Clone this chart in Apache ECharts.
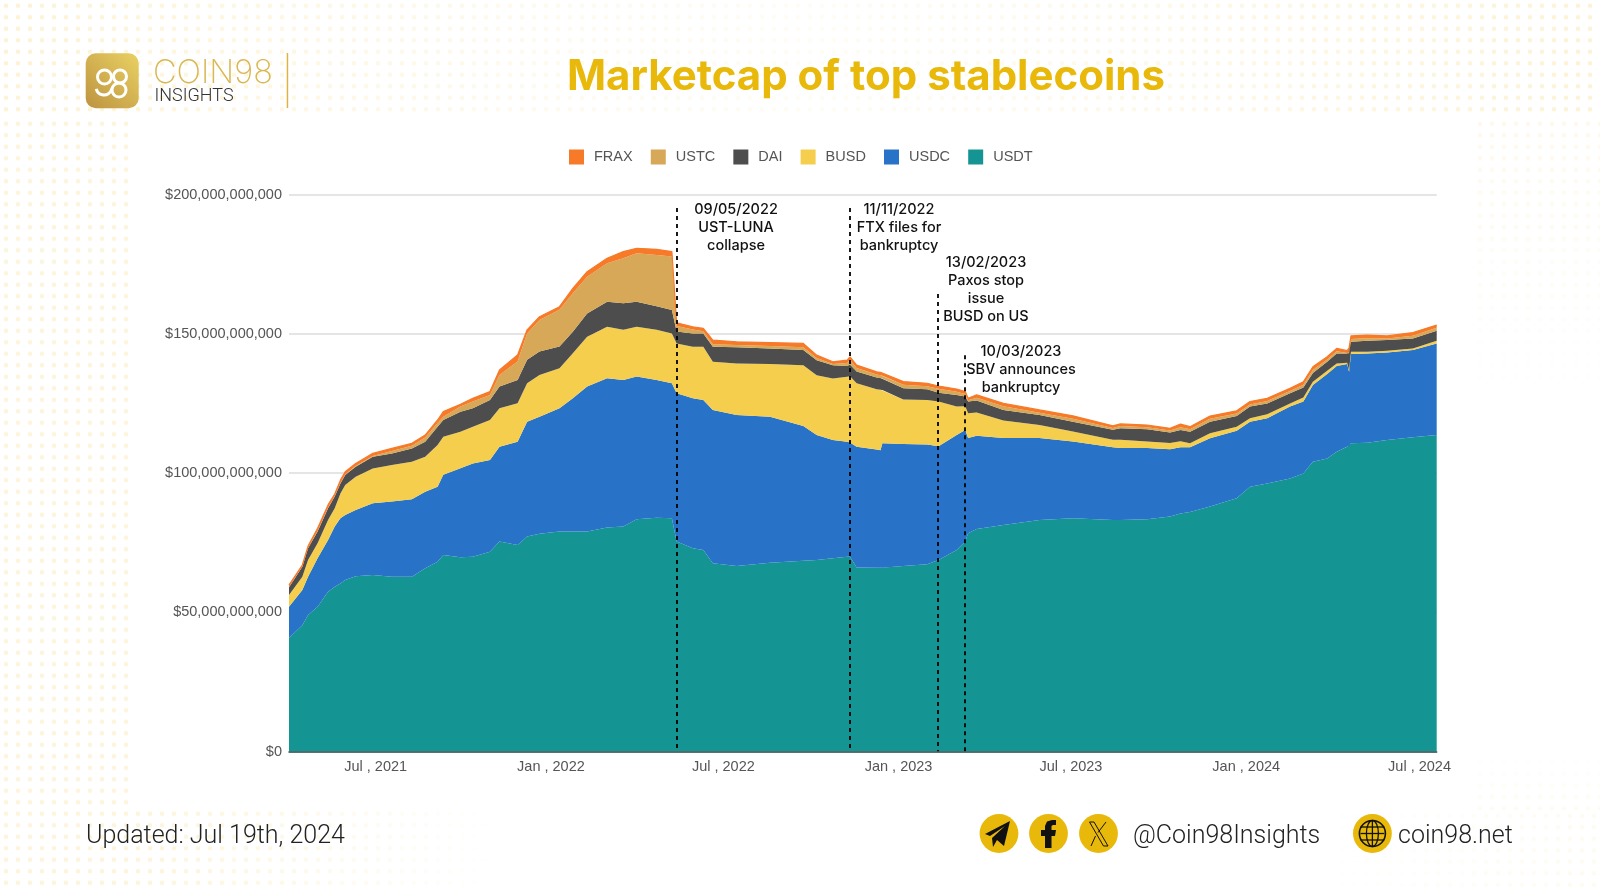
<!DOCTYPE html>
<html>
<head>
<meta charset="utf-8">
<title>Marketcap of top stablecoins</title>
<script src="https://cdn.jsdelivr.net/npm/echarts@6/dist/echarts.min.js"></script>
<style>
html,body{margin:0;padding:0;background:#fff;width:1600px;height:889px;overflow:hidden;}
.dots{position:absolute;background-image:radial-gradient(circle,#fcf3d6 2px,rgba(255,255,255,0) 2.6px);background-size:12px 11.5px;}
#chart{position:absolute;left:0;top:0;width:1600px;height:889px;}
</style>
</head>
<body>
<div class="dots" style="left:0;top:0;width:1600px;height:118px;-webkit-mask-image:linear-gradient(90deg,#000 0,rgba(0,0,0,.55) 25%,rgba(0,0,0,.25) 50%,rgba(0,0,0,.6) 75%,#000 100%);"></div>
<div class="dots" style="left:0;top:118px;width:128px;height:690px;opacity:.85;"></div>
<div class="dots" style="left:0;top:808px;width:500px;height:81px;opacity:.85;-webkit-mask-image:linear-gradient(90deg,#000 30%,rgba(0,0,0,0) 100%);"></div>
<div class="dots" style="left:1474px;top:118px;width:126px;height:290px;-webkit-mask-image:linear-gradient(180deg,rgba(0,0,0,.5) 0,rgba(0,0,0,0) 100%);"></div>
<div class="dots" style="left:1474px;top:745px;width:126px;height:65px;-webkit-mask-image:linear-gradient(180deg,rgba(0,0,0,0) 0,rgba(0,0,0,.3) 100%);"></div>
<div class="dots" style="left:1300px;top:810px;width:300px;height:79px;-webkit-mask-image:linear-gradient(90deg,rgba(0,0,0,0) 0,rgba(0,0,0,.35) 100%);"></div>
<div id="chart"></div>
<script>
// values, billions of dollars
var dates = ["2021-04-01","2021-04-15","2021-04-21","2021-05-01","2021-05-12","2021-05-19","2021-05-25","2021-05-30","2021-06-10","2021-06-28",
"2021-07-18","2021-08-08","2021-08-22","2021-09-04","2021-09-10","2021-09-28","2021-10-11","2021-10-29","2021-11-08","2021-11-27",
"2021-12-07","2021-12-20","2022-01-10","2022-01-24","2022-02-08","2022-03-01","2022-03-18","2022-04-01","2022-04-22","2022-05-08",
"2022-05-13","2022-05-30","2022-06-10","2022-06-20","2022-07-15","2022-08-19","2022-09-23","2022-10-07","2022-10-24","2022-11-08",
"2022-11-11","2022-11-18","2022-12-09","2022-12-13","2022-12-15","2023-01-06","2023-01-31","2023-02-12","2023-03-03","2023-03-12",
"2023-03-15","2023-03-24","2023-04-21","2023-05-29","2023-07-03","2023-08-14","2023-08-22","2023-09-19","2023-10-13","2023-10-24",
"2023-11-03","2023-11-24","2023-12-22","2024-01-05","2024-01-23","2024-02-16","2024-03-01","2024-03-11","2024-03-26","2024-04-05",
"2024-04-16","2024-04-18","2024-04-20","2024-05-07","2024-05-28","2024-06-24","2024-07-19"];
var usdt = [40.8,45.4,49,52,57.4,59.2,60.4,61.6,63,63.4,
62.8,62.8,65.8,68.2,70.6,69.8,70,71.8,75.4,74.2,
77.2,78.2,79,79,79,80.5,80.8,83.4,84,83.8,
75.4,73,72.4,67.6,66.6,67.8,68.5,68.8,69.4,70,
70,66.1,66,66,66,66.6,67.3,68.8,72.4,75.4,
78.4,79.9,81.4,83.2,83.8,83.2,83.2,83.4,84.4,85.5,
86,88,91,95.1,96.3,98.1,99.9,104.1,105.3,107.7,
109.5,109.8,110.7,110.9,111.9,112.9,113.7];
var usdc = [11.2,12.6,13.8,17.4,18.6,21.6,23.4,23.4,23.8,25.8,
27,27.8,27.5,26.9,28.8,32,33.5,32.9,34.1,37.1,
41.3,42.1,44.3,47.9,52.1,53.6,52.7,51.3,49.5,48.5,
53.3,53.9,53.9,55.1,54.3,52.5,48.4,44.9,42.5,41.3,
41,43.4,42.5,42.2,44.7,43.9,43,40.9,41.3,40.1,
34.2,33.5,31.2,29.4,27.6,26.1,25.8,25.6,24.2,23.8,
23.3,24.5,24.2,23.4,23.4,25.8,25.8,27.6,30.3,30.8,
29.7,26.6,32.1,32.1,31.4,31.3,32.9];
var busd = [4.2,4.8,6,5.4,7.2,6.6,8.9,10.7,11.9,12.5,
13.1,13.5,12.6,15,13.7,13.1,13.2,14.4,13.8,13.8,
13.8,15,14.4,16.2,17.9,18.5,18,17.9,18,17.9,
17.9,18.5,19.1,17.3,18.5,18.9,21.9,21.5,22.1,23.3,
23.8,22.8,21.6,21.8,19.2,16,16,16,10.2,8.5,
8.9,8.4,6.3,4.7,3.6,2.7,3,2.4,2.2,2.2,
1.4,1.8,1.5,1.2,1.5,1.1,1.5,1.1,1.2,0.9,
0.5,0.6,0.8,0.6,0.7,0.6,1];
var dai = [2.8,3.6,4.2,4.2,4.2,4.2,3.6,3.6,3.6,4.2,
4.2,4.8,5.4,6.6,6,7.2,6.6,7.2,7.8,8.4,
8.4,8.4,7.8,7.7,8.4,9,9.5,9,8.5,8.4,
4.3,4.8,4.8,5.4,5.8,5.6,5.4,5.4,4.8,3.9,
4.2,4.2,4.3,4.2,4.1,4,3.8,3.2,4.2,3.5,
4.2,4.3,3.8,3.6,3.5,3.6,4.1,4.4,3.8,4,
4.2,4.2,3.8,4.2,3.8,3.7,3.6,3.2,3.2,3.6,
3.3,6,3.6,4,3.8,3.6,3.6];
var ustc = [0.1,0.1,0.1,0.2,0.2,0.2,0.2,0.2,0.3,0.3,
0.9,0.9,1.5,1.3,1.2,1.8,2.4,1.8,4.2,6.6,
9.5,11.3,13.2,13.8,13.2,13.8,16.2,17.4,18.4,19.2,
2,1.4,0.8,0.9,0.8,0.9,1,0.8,0.4,1.1,
1.7,1.3,1,1,1,1.3,1.1,1.4,1.1,0.9,
0.5,1,1.3,0.8,1,0.6,0.8,0.7,0.7,1,
0.9,1,0.9,0.8,0.9,0.8,1,1.1,0.8,0.8,
0.2,1,1,0.9,0.6,1,1];
var frax = [0.7,0.5,0.7,1,1,0.7,1,1,0.9,0.9,
0.9,0.9,0.9,1.1,1.8,0.8,1.2,1.2,1.8,2.4,
1.3,1.2,1.1,1.8,1.8,1.8,2.4,1.8,2,1.8,
1.1,1,1,1.5,1.2,1.2,1.4,1,0.8,1,
1.1,1,1,1,1,1.1,1.1,1,1,0.9,
0.7,1,1.1,1,1.1,0.8,0.8,0.8,0.8,1.1,
0.9,1,1,1,1,1,1,1.1,1,1,
0.8,1,1.1,1.1,0.9,1.1,1];

var legendNames = ["FRAX","USTC","DAI","BUSD","USDC","USDT"];
// the axis gives quarterly ticks, the picture only labels these months
var labelMonths = ["Jan","Jul"];

var eventDates = ["2022-05-13","2022-11-11","2023-02-11","2023-03-12"];
var eventTops = [195.3,195.3,164.4,142.4];
var eventTexts = [
    ["09/05/2022","UST-LUNA","collapse"],
    ["11/11/2022","FTX files for","bankruptcy"],
    ["13/02/2023","Paxos stop","issue","BUSD on US"],
    ["10/03/2023","SBV announces","bankruptcy"]
];
var eventTextX = [736,899,986,1021];
var eventTextY = [210,210,263,352];

function pairs(values) {
    return values.map(function(v, i) { return [dates[i], v]; });
}

function area(name, values, color, extra) {
    var s = {
        name: name,
        type: "line",
        stack: "cap",
        symbol: "none",
        silent: true,
        itemStyle: {color: color},
        lineStyle: {width: 0, color: color},
        areaStyle: {color: color, opacity: 1},
        data: pairs(values)
    };
    for (var k in extra) { s[k] = extra[k]; }
    return s;
}

var eventLines = eventDates.map(function(d, i) {
    return [{xAxis: d, yAxis: eventTops[i]}, {xAxis: d, yAxis: 0}];
});

var g = [];
// logo
g.push({type: "rect", shape: {x: 85.7, y: 53.3, width: 53, height: 55, r: 10},
    style: {fill: new echarts.graphic.LinearGradient(1, 0, 0, 1, [{offset: 0, color: "#E9D163"}, {offset: 1, color: "#BD9340"}])}});
g.push({type: "circle", shape: {cx: 104.5, cy: 77, r: 7}, style: {fill: "none", stroke: "#fff", lineWidth: 3}});
g.push({type: "circle", shape: {cx: 120, cy: 76.5, r: 6.5}, style: {fill: "none", stroke: "#fff", lineWidth: 3}});
g.push({type: "circle", shape: {cx: 119, cy: 90, r: 7}, style: {fill: "none", stroke: "#fff", lineWidth: 3}});
g.push({type: "arc", shape: {cx: 104, cy: 87, r: 8, startAngle: 0.2, endAngle: 2.9}, style: {fill: "none", stroke: "#fff", lineWidth: 3}});
g.push({type: "text", style: {text: "COIN98", x: 153, y: 73, verticalAlign: "middle", font: "200 32.5px Inter", fill: "#D9B753"}});
g.push({type: "text", style: {text: "INSIGHTS", x: 154.5, y: 96, verticalAlign: "middle", font: "300 18px Roboto", fill: "#333"}});
g.push({type: "rect", shape: {x: 286.7, y: 53, width: 1.5, height: 55}, style: {fill: "#DDB443"}});
// title
g.push({type: "text", style: {text: "Marketcap of top stablecoins", x: 866, y: 77, textAlign: "center", verticalAlign: "middle",
    font: "700 42px Inter", fill: "#E8B90A"}});
// annotations
eventTexts.forEach(function(lines, i) {
    lines.forEach(function(t, j) {
        g.push({type: "text", style: {text: t, x: eventTextX[i], y: eventTextY[i] + j * 18, textAlign: "center", verticalAlign: "middle",
            font: "500 14.5px Inter", fill: "#111"}});
    });
});
// footer
g.push({type: "text", style: {text: "Updated: Jul 19th, 2024", x: 86, y: 837, verticalAlign: "middle", font: "300 25px Roboto", fill: "#222"}});
g.push({type: "text", style: {text: "@Coin98Insights", x: 1133, y: 837, verticalAlign: "middle", font: "300 25px Roboto", fill: "#222"}});
g.push({type: "text", style: {text: "coin98.net", x: 1398, y: 837, verticalAlign: "middle", font: "300 25px Roboto", fill: "#222"}});
[999, 1048.5, 1098.5, 1372.4].forEach(function(cx) {
    g.push({type: "circle", shape: {cx: cx, cy: 833.5, r: 19.4}, style: {fill: "#E8B90A"}});
});
// telegram
g.push({type: "polygon", shape: {points: [[985,834],[1010,821],[1004,846],[997,840],[993,847],[992,838],[1005,826],[990,836]]}, style: {fill: "#111"}});
// facebook
g.push({type: "polygon", shape: {points: [[1045,848],[1045,836],[1041,836],[1041,830],[1045,830],[1045,826],[1047,821.5],[1052,820],[1056,820],[1056,825],[1053,825],[1051.5,826],[1051.5,830],[1056,830],[1055,836],[1051.5,836],[1051.5,848]]}, style: {fill: "#111"}});
// x
g.push({type: "polygon", shape: {points: [[1089.5,822],[1094,822],[1108,846],[1103.5,846]]}, style: {fill: "none", stroke: "#111", lineWidth: 1}});
g.push({type: "line", shape: {x1: 1106, y1: 822, x2: 1098, y2: 832.5}, style: {stroke: "#111", lineWidth: 1}});
g.push({type: "line", shape: {x1: 1091, y1: 846, x2: 1095.5, y2: 836}, style: {stroke: "#111", lineWidth: 1}});
// globe
g.push({type: "circle", shape: {cx: 1372.4, cy: 833.5, r: 13}, style: {fill: "none", stroke: "#111", lineWidth: 1.6}});
g.push({type: "ellipse", shape: {cx: 1372.4, cy: 833.5, rx: 6, ry: 13}, style: {fill: "none", stroke: "#111", lineWidth: 1.3}});
g.push({type: "line", shape: {x1: 1372.4, y1: 820.5, x2: 1372.4, y2: 846.5}, style: {stroke: "#111", lineWidth: 1.3}});
[827, 833.5, 840].forEach(function(y) {
    g.push({type: "line", shape: {x1: 1360.5, y1: y, x2: 1384.3, y2: y}, style: {stroke: "#111", lineWidth: 1.3}});
});

var chart = echarts.init(document.getElementById("chart"));
chart.setOption({
    animation: false,
    backgroundColor: "transparent",
    grid: {left: 289, right: 163.3, top: 194.8, bottom: 137.5},
    legend: {
        left: 569, top: 149.5,
        padding: 0,
        icon: "rect",
        itemWidth: 15, itemHeight: 15, itemGap: 18.1,
        data: legendNames,
        textStyle: {color: "#555", fontFamily: "Liberation Sans", fontSize: 14.5, padding: [0, 0, 0, 5]}
    },
    xAxis: {
        type: "time",
        min: "2021-04-01", max: "2024-07-19",
        splitNumber: 7,
        z: 10,
        axisLine: {show: true, lineStyle: {color: "#2b4a4a", width: 1.5}},
        axisTick: {show: false},
        splitLine: {show: false},
        axisLabel: {
            showMinLabel: false, showMaxLabel: false,
            color: "#555", fontFamily: "Liberation Sans", fontSize: 14.5, margin: 8,
            formatter: function(v) {
                if (labelMonths.indexOf(echarts.time.format(v, "{MMM}", false)) < 0) return "";
                return echarts.time.format(v, "{MMM} , {yyyy}", false);
            }
        }
    },
    yAxis: {
        type: "value",
        min: 0, max: 200, interval: 50,
        axisLine: {show: false},
        axisTick: {show: false},
        splitLine: {lineStyle: {color: "#DCDCDC", width: 1.5}},
        axisLabel: {
            color: "#555", fontFamily: "Liberation Sans", fontSize: 14.5, margin: 7,
            formatter: function(v) { return "$" + (v * 1e9).toLocaleString("en-US"); }
        }
    },
    series: [
        area("USDT", usdt, "#149594"),
        area("USDC", usdc, "#2873C8"),
        area("BUSD", busd, "#F6CE4E"),
        area("DAI", dai, "#4D4D4D"),
        area("USTC", ustc, "#D6A857"),
        area("FRAX", frax, "#F77A28", {
            lineStyle: {width: 1.2, color: "#F77A28"},
            markLine: {
                silent: true,
                symbol: "none",
                label: {show: false},
                lineStyle: {color: "#000", type: [4, 4], width: 1.8},
                data: eventLines
            }
        })
    ],
    graphic: g
});
</script>
</body>
</html>
